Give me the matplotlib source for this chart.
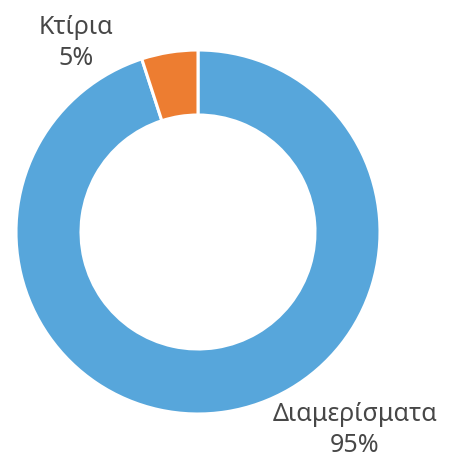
import matplotlib
matplotlib.use("Agg")
import matplotlib.pyplot as plt

labels = ["Διαμερίσματα", "Κτίρια"]
shares = [95, 5]
colors = ["#57A6DB", "#ED7D31"]

W, H = 452, 457
fig = plt.figure(figsize=(W / 100, H / 100), dpi=100)
ax = fig.add_axes([0, 0, 1, 1])

ax.pie(shares, colors=colors, startangle=90, counterclock=False,
       center=(198, 225), radius=182,
       wedgeprops=dict(width=65, edgecolor="white", linewidth=2.2))

ax.set_xlim(0, W)
ax.set_ylim(0, H)
ax.set_aspect("equal")
ax.axis("off")

txt = dict(fontsize=18, color="#474747", family=["Noto Sans", "DejaVu Sans"],
           ha="center", va="center", linespacing=1.35)
ax.text(76, H - 43, f"{labels[1]}\n{shares[1]}%", **txt)
ax.text(355, H - 430, f"{labels[0]}\n{shares[0]}%", **txt)

fig.savefig("out.png", dpi=100)
